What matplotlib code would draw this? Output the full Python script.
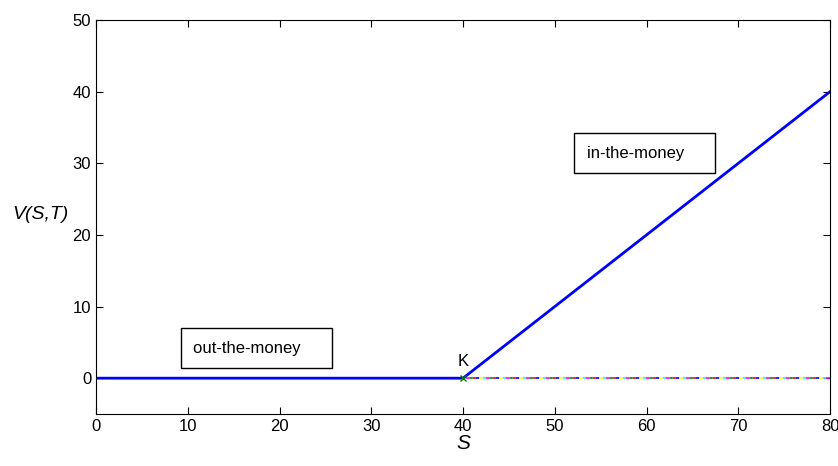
import numpy as np
import matplotlib.pyplot as plt

plt.rcParams['font.family'] = ['Liberation Sans', 'DejaVu Sans']

# strike and payoff of a call at expiry
K = 40
S = [0, 40, 80]
payoff = [0, 0, 40]
zero_colors = ['blue', 'red', 'green', 'magenta', 'cyan', 'yellow']

fig = plt.figure(figsize=(8.38, 4.66), dpi=100)
ax = fig.add_axes([0.1146, 0.1116, 0.8759, 0.8454])

# payoff at zero drawn many times over in different colours
n = len(zero_colors)
for i, c in enumerate(zero_colors):
    ax.plot([0, 80], [0, 0], color=c, lw=1.2,
            linestyle=(i * 2, (2, 2 * (n - 1))))

ax.plot(S, payoff, color='blue', lw=2)
ax.plot([K], [0], 'x', color='green', ms=5, mew=1)
ax.text(K, 1.3, 'K', ha='center', va='bottom', fontsize=12)

box = dict(boxstyle='square,pad=0.75', fc='white', ec='black', lw=1)
ax.text(10.6, 4.2, 'out-the-money    ', va='center', fontsize=12, bbox=box)
ax.text(53.5, 31.4, 'in-the-money    ', va='center', fontsize=12, bbox=box)

ax.set_xlim(0, 80)
ax.set_ylim(-5, 50)
ax.set_xticks(np.arange(0, 81, 10))
ax.set_yticks(np.arange(0, 51, 10))
ax.tick_params(direction='in', top=True, right=True, labelsize=12, length=5)
ax.set_xlabel('S', fontsize=15, style='italic', labelpad=0)
ax.set_ylabel('V(S,T)', fontsize=14, style='italic', rotation=0)
ax.yaxis.set_label_coords(-0.076, 0.485)

fig.savefig('out.png', dpi=100)
